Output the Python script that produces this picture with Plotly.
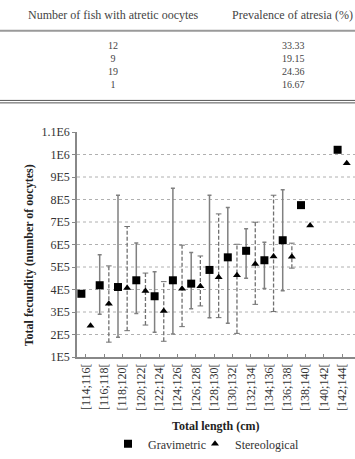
import plotly.graph_objects as go

# ---------------- data ----------------
table_fish = [12, 9, 19, 1]
table_prev = ["33.33", "19.15", "24.36", "16.67"]
table_headers = ["Number of fish with atretic oocytes", "Prevalence of atresia (%)"]

categories = ["[114;116[", "[116;118[", "[118;120[", "[120;122[", "[122;124[",
              "[124;126[", "[126;128[", "[128;130[", "[130;132[", "[132;134[",
              "[134;136[", "[136;138[", "[138;140[", "[140;142[", "[142;144["]

grav_mean = [3.81e5, 4.19e5, 4.11e5, 4.41e5, 3.70e5, 4.41e5, 4.26e5, 4.87e5,
             5.43e5, 5.72e5, 5.30e5, 6.19e5, 7.75e5, None, 1.021e6]
grav_hi = [None, 5.55e5, 8.19e5, 6.07e5, 4.79e5, 8.50e5, 5.65e5, 8.19e5,
           7.65e5, 6.70e5, 6.10e5, 8.43e5, None, None, None]
grav_lo = [None, 2.90e5, 1.88e5, 2.93e5, 2.10e5, 2.02e5, 3.15e5, 2.75e5,
           2.50e5, 4.50e5, 4.04e5, 3.95e5, None, None, None]

ster_mean = [2.39e5, 3.37e5, 4.07e5, 3.93e5, 3.05e5, 4.03e5, 4.14e5, 4.54e5,
             4.63e5, 5.13e5, 5.47e5, 5.46e5, 6.85e5, None, 9.61e5]
ster_hi = [None, 5.05e5, 6.80e5, 4.73e5, 4.35e5, 5.97e5, 5.49e5, 7.36e5,
           6.01e5, 6.99e5, 8.19e5, 6.06e5, None, None, None]
ster_lo = [None, 1.66e5, 2.17e5, 2.42e5, 1.70e5, 2.35e5, 3.27e5, 2.75e5,
           2.05e5, 3.34e5, 3.02e5, 4.95e5, None, None, None]

y_ticks = [1e5, 2e5, 3e5, 4e5, 5e5, 6e5, 7e5, 8e5, 9e5, 1e6, 1.1e6]
y_ticktext = ["1E5", "2E5", "3E5", "4E5", "5E5", "6E5", "7E5", "8E5", "9E5", "1E6", "1.1E6"]

# ---------------- layout geometry ----------------
W, H = 355, 459
L, R, T, B = 77, 0, 132, 99
PW, PH = W - L - R, H - T - B
FONT = "Liberation Serif"
OFF = 0.25


def px_x(px):
    return (px - L) / PW


def px_y(py):
    return (H - B - py) / PH


idx = list(range(len(categories)))
gx = [i - OFF for i in idx]
sx = [i + OFF for i in idx]

fig = go.Figure()

# gravimetric (solid error bars)
g_plus = [(h - m) if (h is not None and m is not None) else None for h, m in zip(grav_hi, grav_mean)]
g_minus = [(m - l) if (l is not None and m is not None) else None for l, m in zip(grav_lo, grav_mean)]
fig.add_trace(go.Scatter(
    x=gx, y=grav_mean, mode="markers", name="Gravimetric", legend="legend",
    marker=dict(symbol="square", size=8, color="black"),
    error_y=dict(type="data", array=g_plus, arrayminus=g_minus, symmetric=False,
                 color="#808080", thickness=1.5, width=2),
))

# stereological dashed error bars
ex, ey, cx, cy = [], [], [], []
for x, lo, hi in zip(sx, ster_lo, ster_hi):
    if lo is None or hi is None:
        continue
    ex += [x, x, None]
    ey += [lo, hi, None]
    cx += [x, x]
    cy += [lo, hi]
fig.add_trace(go.Scatter(x=ex, y=ey, mode="lines", showlegend=False, hoverinfo="skip",
                         line=dict(color="#707070", width=1.3, dash="4px,2px")))
fig.add_trace(go.Scatter(x=cx, y=cy, mode="markers", showlegend=False, hoverinfo="skip",
                         marker=dict(symbol="line-ew", size=4,
                                     line=dict(color="#707070", width=1))))
fig.add_trace(go.Scatter(
    x=sx, y=ster_mean, mode="markers", name="Stereological", legend="legend2",
    marker=dict(symbol="triangle-up", size=7, color="black"),
))

# dotted gridlines
for v in y_ticks[1:-1]:
    fig.add_shape(type="line", xref="paper", yref="y", x0=0, x1=1, y0=v, y1=v,
                  line=dict(color="#b0b0b0", width=1, dash="dot"), layer="below")

# ---------------- table above chart ----------------
annots = []
hdr_y = px_y(13)
annots.append(dict(text=table_headers[0], x=px_x(113), y=hdr_y, xref="paper", yref="paper",
                   showarrow=False, xanchor="center", yanchor="middle",
                   font=dict(family=FONT, size=12, color="#444")))
annots.append(dict(text=table_headers[1], x=px_x(230), y=hdr_y, xref="paper", yref="paper",
                   showarrow=False, xanchor="left", yanchor="middle",
                   font=dict(family=FONT, size=12, color="#444")))
col1 = "<br>".join(str(f) for f in table_fish)
col2 = "<br>".join(table_prev)
annots.append(dict(text=col1, x=px_x(113), y=px_y(37), xref="paper", yref="paper",
                   showarrow=False, xanchor="center", yanchor="top", align="center",
                   font=dict(family=FONT, size=10, color="#444")))
annots.append(dict(text=col2, x=px_x(293), y=px_y(37), xref="paper", yref="paper",
                   showarrow=False, xanchor="center", yanchor="top", align="center",
                   font=dict(family=FONT, size=10, color="#444")))

fig.add_shape(type="line", xref="paper", yref="paper", x0=px_x(0), x1=px_x(W),
              y0=px_y(29.5), y1=px_y(29.5), line=dict(color="#9a9a9a", width=2))
fig.add_shape(type="line", xref="paper", yref="paper", x0=px_x(0), x1=px_x(W),
              y0=px_y(100), y1=px_y(100), line=dict(color="#555", width=1))
fig.add_shape(type="line", xref="paper", yref="paper", x0=px_x(0), x1=px_x(W),
              y0=px_y(102.5), y1=px_y(102.5), line=dict(color="#555", width=1))

# axis titles
annots.append(dict(text="<b>Total length (cm)</b>", x=px_x(216), y=px_y(430), xref="paper",
                   yref="paper", showarrow=False, xanchor="center", yanchor="middle",
                   font=dict(family=FONT, size=12, color="#222")))
annots.append(dict(text="<b>Total fecundity (number of oocytes)</b>", x=px_x(29), y=px_y(257),
                   xref="paper", yref="paper", showarrow=False, xanchor="center",
                   yanchor="middle", textangle=-90,
                   font=dict(family=FONT, size=12, color="#222")))

leg_common = dict(orientation="h", yanchor="middle", y=px_y(448), xanchor="left",
                  font=dict(family=FONT, size=12, color="#333"), itemwidth=30,
                  bgcolor="rgba(0,0,0,0)", borderwidth=0)

fig.update_layout(
    width=W, height=H,
    margin=dict(l=L, r=R, t=T, b=B, pad=0),
    paper_bgcolor="white", plot_bgcolor="white",
    font=dict(family=FONT, size=12, color="#333"),
    annotations=annots,
    showlegend=True,
    legend=dict(x=px_x(108), **leg_common),
    legend2=dict(x=px_x(195), **leg_common),
    xaxis=dict(range=[-0.49, 14.7], tickmode="array", tickvals=idx, ticktext=categories,
               tickangle=-90, showgrid=False, zeroline=False, showline=True,
               linecolor="#888", linewidth=1.5, ticks="inside", ticklen=3,
               tickcolor="#888", tickfont=dict(family=FONT, size=12, color="#333")),
    yaxis=dict(range=[1e5, 1.1e6], tickmode="array", tickvals=y_ticks, ticktext=y_ticktext,
               showgrid=False, zeroline=False, showline=True, linecolor="#888",
               linewidth=1.5, ticks="outside", ticklen=3, tickcolor="#888",
               tickfont=dict(family=FONT, size=12, color="#333")),
)

fig.write_html("out.html")
